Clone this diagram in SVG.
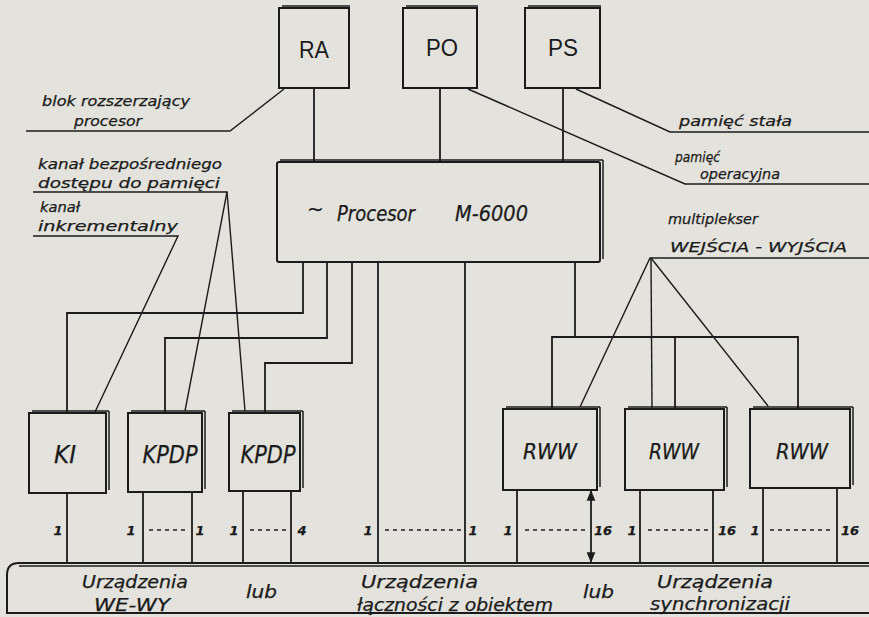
<svg xmlns="http://www.w3.org/2000/svg" width="869" height="617" viewBox="0 0 869 617">
<defs>
<style>
.ln{stroke:#1b1b1b;stroke-width:1.8;fill:none}
.thin{stroke:#1b1b1b;stroke-width:1.4;fill:none}
.bx{stroke:#1b1b1b;stroke-width:2;fill:none}
.sh{stroke:#1b1b1b;stroke-width:1.5;fill:none}
.dash{stroke:#1b1b1b;stroke-width:1.4;stroke-dasharray:4 4;fill:none}
.t{font-family:"DejaVu Sans","Liberation Sans",sans-serif;font-style:italic;fill:#1b1b1b;stroke:#1b1b1b;stroke-width:0.25}
.u{font-family:"Liberation Sans","DejaVu Sans",sans-serif;fill:#1b1b1b}
.lbl{font-size:14px}
.num{font-size:13px;font-weight:bold}
.big{font-size:24px}
.bus{font-size:17px}
</style>
<marker id="ah" viewBox="0 0 10 10" refX="9" refY="5" markerWidth="6" markerHeight="6" orient="auto-start-reverse">
<path d="M0,1 L10,5 L0,9 z" fill="#1b1b1b"/>
</marker>
</defs>
<rect width="869" height="617" fill="#e3e2dc"/>

<g id="connectors">
<line class="ln" x1="314" y1="88" x2="314" y2="161"/>
<line class="ln" x1="440" y1="88" x2="440" y2="161"/>
<line class="ln" x1="563" y1="88" x2="563" y2="161"/>
<polyline class="ln" points="303,262 303,313 67,313 67,413"/>
<polyline class="ln" points="327,262 327,338 165,338 165,413"/>
<polyline class="ln" points="352,262 352,363 265,363 265,413"/>
<line class="ln" x1="378" y1="262" x2="378" y2="563"/>
<line class="ln" x1="465" y1="262" x2="465" y2="563"/>
<polyline class="ln" points="575,262 575,337"/>
<polyline class="ln" points="552,408 552,337 798,337 798,408"/>
<line class="ln" x1="675" y1="337" x2="675" y2="408"/>
<line class="ln" x1="67" y1="493" x2="67" y2="563"/>
<line class="ln" x1="143" y1="492" x2="143" y2="563"/>
<line class="ln" x1="192" y1="492" x2="192" y2="563"/>
<line class="ln" x1="243" y1="491" x2="243" y2="563"/>
<line class="ln" x1="291" y1="491" x2="291" y2="563"/>
<line class="ln" x1="517" y1="490" x2="517" y2="563"/>
<line class="ln" x1="591" y1="491" x2="591" y2="562" marker-start="url(#ah)" marker-end="url(#ah)"/>
<line class="ln" x1="640" y1="490" x2="640" y2="563"/>
<line class="ln" x1="713" y1="490" x2="713" y2="563"/>
<line class="ln" x1="763" y1="488" x2="763" y2="563"/>
<line class="ln" x1="837" y1="488" x2="837" y2="563"/>
<line class="dash" x1="149" y1="530" x2="188" y2="530"/>
<line class="dash" x1="250" y1="530" x2="287" y2="530"/>
<line class="dash" x1="385" y1="530" x2="462" y2="530"/>
<line class="dash" x1="525" y1="530" x2="586" y2="530"/>
<line class="dash" x1="648" y1="530" x2="708" y2="530"/>
<line class="dash" x1="770" y1="530" x2="834" y2="530"/>
<polyline class="thin" points="26,131 230,131 284,89"/>
<polyline class="thin" points="576,89 670,132 869,132"/>
<polyline class="thin" points="468,89 685,184 869,184"/>
<polyline class="thin" points="33,192 227,192 185,411"/>
<line class="thin" x1="227" y1="192" x2="245" y2="411"/>
<polyline class="thin" points="33,236 178,236 95,412"/>
<polyline class="thin" points="869,258 650,258 580,407"/>
<line class="thin" x1="651" y1="258" x2="652" y2="408"/>
<line class="thin" x1="651" y1="258" x2="768" y2="406"/>
</g>

<g id="RA">
<rect class="bx" x="279" y="8" width="70" height="80"/>
<line class="sh" x1="282" y1="6" x2="350" y2="6"/>
<text class="u big" x="314" y="58" text-anchor="middle" textLength="30" lengthAdjust="spacingAndGlyphs">RA</text>
</g>
<g id="PO">
<rect class="bx" x="403" y="8" width="74" height="80"/>
<line class="sh" x1="406" y1="6" x2="478" y2="6"/>
<text class="u big" x="442" y="56" text-anchor="middle" textLength="32" lengthAdjust="spacingAndGlyphs">PO</text>
</g>
<g id="PS">
<rect class="bx" x="525" y="8" width="75" height="80"/>
<line class="sh" x1="528" y1="6" x2="601" y2="6"/>
<text class="u big" x="563" y="56" text-anchor="middle" textLength="30" lengthAdjust="spacingAndGlyphs">PS</text>
</g>

<g id="processor">
<rect class="bx" x="277" y="162" width="323" height="100" rx="2"/>
<line class="sh" x1="280" y1="160" x2="603" y2="160"/>
<line class="sh" x1="603" y1="160" x2="603" y2="259"/>
<text class="t" x="307" y="216" font-size="20">~</text>
<text class="t" x="337" y="221" font-size="22" textLength="78" lengthAdjust="spacingAndGlyphs">Procesor</text>
<text class="t" x="455" y="221" font-size="22" textLength="73" lengthAdjust="spacingAndGlyphs">M-6000</text>
</g>

<g id="KI">
<rect class="bx" x="29" y="413" width="77" height="80"/>
<line class="sh" x1="32" y1="411" x2="109" y2="411"/>
<line class="sh" x1="109" y1="411" x2="109" y2="490"/>
<text class="t big" x="65" y="463" text-anchor="middle" textLength="22" lengthAdjust="spacingAndGlyphs">KI</text>
</g>
<g id="KPDP1">
<rect class="bx" x="128" y="413" width="74" height="79"/>
<line class="sh" x1="131" y1="411" x2="205" y2="411"/>
<line class="sh" x1="205" y1="411" x2="205" y2="489"/>
<text class="t big" x="170" y="463" text-anchor="middle" textLength="55" lengthAdjust="spacingAndGlyphs">KPDP</text>
</g>
<g id="KPDP2">
<rect class="bx" x="229" y="413" width="71" height="78"/>
<line class="sh" x1="232" y1="411" x2="303" y2="411"/>
<line class="sh" x1="303" y1="411" x2="303" y2="488"/>
<text class="t big" x="268" y="463" text-anchor="middle" textLength="55" lengthAdjust="spacingAndGlyphs">KPDP</text>
</g>

<g id="RWW1">
<rect class="bx" x="503" y="409" width="94" height="81"/>
<line class="sh" x1="506" y1="407" x2="600" y2="407"/>
<line class="sh" x1="600" y1="407" x2="600" y2="487"/>
<text class="t" x="550" y="459" font-size="21" text-anchor="middle" textLength="54" lengthAdjust="spacingAndGlyphs">RWW</text>
</g>
<g id="RWW2">
<rect class="bx" x="625" y="409" width="99" height="81"/>
<line class="sh" x1="628" y1="407" x2="727" y2="407"/>
<line class="sh" x1="727" y1="407" x2="727" y2="487"/>
<text class="t" x="674" y="459" font-size="21" text-anchor="middle" textLength="50" lengthAdjust="spacingAndGlyphs">RWW</text>
</g>
<g id="RWW3">
<rect class="bx" x="750" y="409" width="100" height="79"/>
<line class="sh" x1="753" y1="407" x2="853" y2="407"/>
<line class="sh" x1="853" y1="407" x2="853" y2="485"/>
<text class="t" x="802" y="459" font-size="21" text-anchor="middle" textLength="52" lengthAdjust="spacingAndGlyphs">RWW</text>
</g>

<g id="devices">
<path class="bx" d="M869,563 H19 Q7,563 7,575 V613 H869"/>
<line class="sh" x1="19" y1="566" x2="869" y2="566"/>
<text class="t bus" x="82" y="588" textLength="106" lengthAdjust="spacingAndGlyphs">Urządzenia</text>
<text class="t bus" x="94" y="611" textLength="76" lengthAdjust="spacingAndGlyphs">WE-WY</text>
<text class="t bus" x="246" y="598" textLength="31" lengthAdjust="spacingAndGlyphs">lub</text>
<text class="t bus" x="361" y="588" textLength="117" lengthAdjust="spacingAndGlyphs">Urządzenia</text>
<text class="t bus" x="357" y="611" textLength="196" lengthAdjust="spacingAndGlyphs">łączności z obiektem</text>
<text class="t bus" x="583" y="598" textLength="31" lengthAdjust="spacingAndGlyphs">lub</text>
<text class="t bus" x="657" y="588" textLength="116" lengthAdjust="spacingAndGlyphs">Urządzenia</text>
<text class="t bus" x="650" y="610" textLength="140" lengthAdjust="spacingAndGlyphs">synchronizacji</text>
</g>

<g id="labels">
<text class="t lbl" x="42" y="106" textLength="148" lengthAdjust="spacingAndGlyphs">blok rozszerzający</text>
<text class="t lbl" x="74" y="126" textLength="68" lengthAdjust="spacingAndGlyphs">procesor</text>
<text class="t lbl" x="679" y="126" textLength="113" lengthAdjust="spacingAndGlyphs">pamięć stała</text>
<text class="t lbl" x="675" y="162" textLength="45" lengthAdjust="spacingAndGlyphs">pamięć</text>
<text class="t lbl" x="700" y="179" textLength="80" lengthAdjust="spacingAndGlyphs">operacyjna</text>
<text class="t lbl" x="38" y="169" textLength="184" lengthAdjust="spacingAndGlyphs">kanał bezpośredniego</text>
<text class="t lbl" x="38" y="188" textLength="182" lengthAdjust="spacingAndGlyphs">dostępu do pamięci</text>
<text class="t lbl" x="40" y="212" textLength="40" lengthAdjust="spacingAndGlyphs">kanał</text>
<text class="t lbl" x="38" y="231" textLength="140" lengthAdjust="spacingAndGlyphs">inkrementalny</text>
<text class="t lbl" x="668" y="224" font-size="15" textLength="90" lengthAdjust="spacingAndGlyphs">multiplekser</text>
<text class="t lbl" x="670" y="252" font-size="15" textLength="177" lengthAdjust="spacingAndGlyphs">WEJŚCIA - WYJŚCIA</text>
<text class="t num" x="58" y="535" text-anchor="middle">1</text>
<text class="t num" x="131" y="535" text-anchor="middle">1</text>
<text class="t num" x="200" y="535" text-anchor="middle">1</text>
<text class="t num" x="234" y="535" text-anchor="middle">1</text>
<text class="t num" x="302" y="535" text-anchor="middle">4</text>
<text class="t num" x="368" y="535" text-anchor="middle">1</text>
<text class="t num" x="473" y="535" text-anchor="middle">1</text>
<text class="t num" x="508" y="535" text-anchor="middle">1</text>
<text class="t num" x="603" y="535" text-anchor="middle">16</text>
<text class="t num" x="632" y="535" text-anchor="middle">1</text>
<text class="t num" x="727" y="535" text-anchor="middle">16</text>
<text class="t num" x="755" y="535" text-anchor="middle">1</text>
<text class="t num" x="850" y="535" text-anchor="middle">16</text>
</g>
</svg>
